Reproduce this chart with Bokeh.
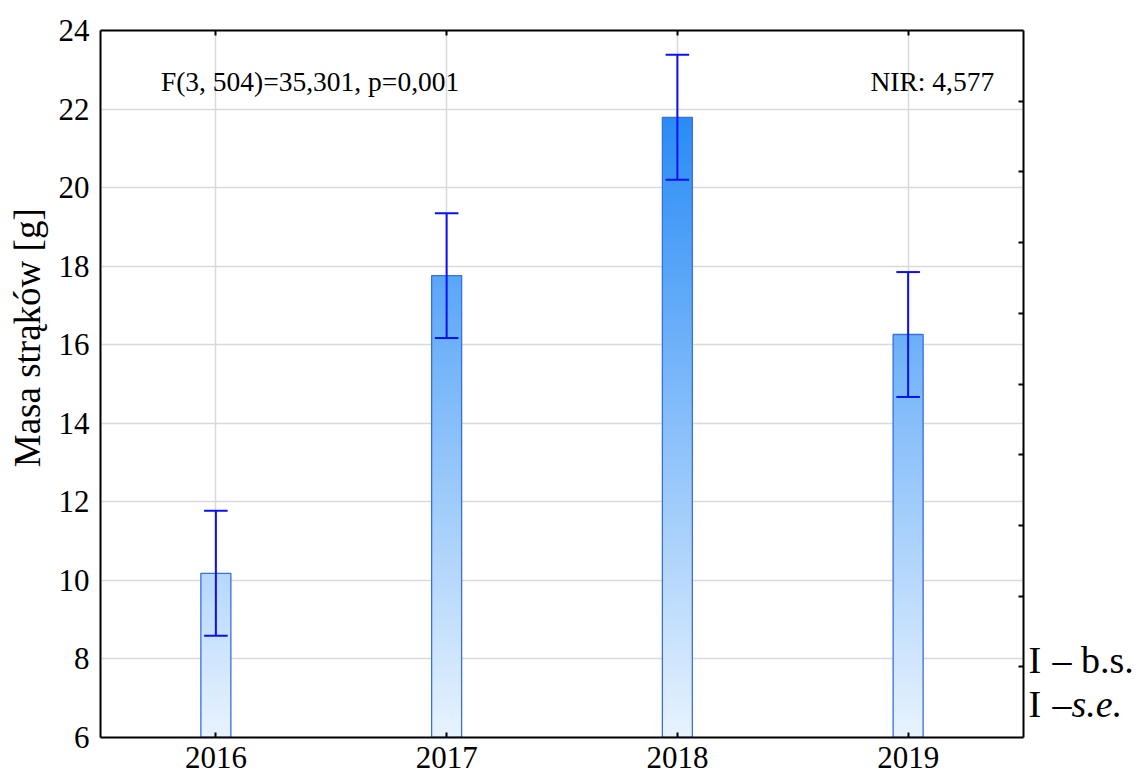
from bokeh.plotting import figure
from bokeh.models import (ColumnDataSource, LinearAxis, FixedTicker,
                          CategoricalAxis, Range1d)
from bokeh.layouts import row
from bokeh.core.properties import value
from bokeh.embed import file_html
from bokeh.resources import INLINE

# ---- data ----
years = ["2016", "2017", "2018", "2019"]
means = [10.18, 17.76, 21.79, 16.26]
se = [1.59, 1.59, 1.59, 1.59]
y_ticks = [6, 8, 10, 12, 14, 16, 18, 20, 22, 24]
right_ticks = [7.8, 9.6, 11.4, 13.2, 15.0, 16.8, 18.6, 20.4, 22.2]
stat_text = "F(3, 504)=35,301, p=0,001"
nir_text = "NIR: 4,577"
y_label = "Masa strąków [g]"
legend_rows = [("I", "– b.s.", ""), ("I", "–", "s.e.")]

FONT = "Liberation Serif"
Y0, Y1 = 6, 24

p = figure(width=1027, height=780, x_range=years, y_range=Range1d(Y0, Y1),
           output_backend="svg", toolbar_location=None,
           min_border_left=100, min_border_right=4, min_border_top=30, min_border_bottom=43)
p.outline_line_color = None
p.background_fill_color = "white"

# gradient colours as a function of y
c_lo = (232, 243, 254)
c_hi = (38, 138, 245)
def col(y):
    t = (y - Y0) / (22 - Y0)
    t = max(0.0, min(1.0, t))
    r = [int(round(a + (b - a) * t)) for a, b in zip(c_lo, c_hi)]
    return "#%02x%02x%02x" % tuple(r)

step = 0.1
xs, bots, tops, cols = [], [], [], []
for yr, m in zip(years, means):
    y = Y0
    while y < m - 1e-9:
        t = min(y + step, m)
        xs.append(yr); bots.append(y); tops.append(min(t + 0.06, m)); cols.append(col((y + t) / 2))
        y = t
grad = ColumnDataSource(dict(x=xs, bottom=bots, top=tops, color=cols))
BW = 0.13
p.vbar(x="x", bottom="bottom", top="top", width=BW, fill_color="color", line_color=None,
       source=grad)

src = ColumnDataSource(dict(x=years, top=means,
                            upper=[m + s for m, s in zip(means, se)],
                            lower=[m - s for m, s in zip(means, se)]))
p.vbar(x="x", bottom=Y0, top="top", width=BW, fill_color=None, line_color="#3a6fe0",
       line_width=1.3, source=src)

# error bars (drawn above the bars)
EB = "#0a10f5"
p.segment(x0="x", y0="lower", x1="x", y1="upper", line_color=EB, line_width=2, source=src)
CAP = 0.051
left = [(yr, -CAP) for yr in years]
right = [(yr, CAP) for yr in years]
up = [m + s for m, s in zip(means, se)]
lo = [m - s for m, s in zip(means, se)]
p.segment(x0=left, y0=up, x1=right, y1=up, line_color=EB, line_width=2)
p.segment(x0=left, y0=lo, x1=right, y1=lo, line_color=EB, line_width=2)

# grids
p.ygrid.ticker = FixedTicker(ticks=y_ticks)
p.ygrid.grid_line_color = "#d9d9d9"
p.ygrid.grid_line_width = 1.5
p.xgrid.grid_line_color = "#d9d9d9"
p.xgrid.grid_line_width = 1.5

# axes
p.yaxis.ticker = FixedTicker(ticks=y_ticks)
for ax in [p.xaxis[0], p.yaxis[0]]:
    ax.axis_line_color = "black"
    ax.axis_line_width = 2
    ax.major_label_text_font = FONT
    ax.major_label_text_font_size = "31px"
    ax.major_label_text_color = "black"
    ax.minor_tick_line_color = None
    ax.major_tick_line_color = "black"
    ax.major_tick_line_width = 2
p.yaxis.major_tick_out = 0
p.yaxis.major_tick_in = 0
p.yaxis.major_label_standoff = 11
p.xaxis.major_tick_out = 0
p.xaxis.major_tick_in = 5
p.xaxis.major_label_standoff = 9
p.yaxis.axis_label = "\u00a0" * 10 + y_label
p.yaxis.axis_label_text_font = FONT
p.yaxis.axis_label_text_font_size = "37px"
p.yaxis.axis_label_text_font_style = "normal"
p.yaxis.axis_label_text_color = "black"
p.yaxis.axis_label_standoff = 8

top_ax = CategoricalAxis(major_label_text_font_size="0px", axis_line_width=2,
                         major_tick_in=5, major_tick_out=0, major_tick_line_width=2,
                         minor_tick_line_color=None, major_label_standoff=0)
p.add_layout(top_ax, "above")
right_ax = LinearAxis(ticker=FixedTicker(ticks=right_ticks), major_label_text_font_size="0px",
                      axis_line_width=2, major_tick_in=5, major_tick_out=0,
                      major_tick_line_width=2, minor_tick_line_color=None,
                      major_label_standoff=0)
p.add_layout(right_ax, "right")

# annotations inside
p.text(x=[years[0]], y=[22.7], text=[stat_text], x_offset=-55, text_align="left",
       text_baseline="middle", text_font=value(FONT), text_font_size="27.5px", text_color="black")
p.text(x=[years[3]], y=[22.7], text=[nir_text], x_offset=86, text_align="right",
       text_baseline="middle", text_font=value(FONT), text_font_size="27.5px", text_color="black")

# legend panel to the right of the plot (coordinates in panel pixels, y downwards)
lg = figure(width=114, height=780, x_range=Range1d(0, 114), y_range=Range1d(780, 0),
            output_backend="svg", toolbar_location=None, min_border=0,
            x_axis_location=None, y_axis_location=None)
lg.grid.visible = False
lg.outline_line_color = None
LS = "38px"
for i, (sym, dash, ital) in enumerate(legend_rows):
    base = 695 + 48 * i
    lg.text(x=[1], y=[base], text=[sym], text_font=value(FONT), text_font_size=LS,
            text_baseline="alphabetic", text_color="black")
    lg.text(x=[25], y=[base], text=[dash], text_font=value(FONT), text_font_size=LS,
            text_baseline="alphabetic", text_color="black")
    if ital:
        lg.text(x=[44], y=[base], text=[ital], text_font=value(FONT), text_font_size=LS,
                text_font_style="italic", text_baseline="alphabetic", text_color="black")

layout = row(p, lg, spacing=0)
open("out.html", "w").write(file_html(layout, INLINE))
